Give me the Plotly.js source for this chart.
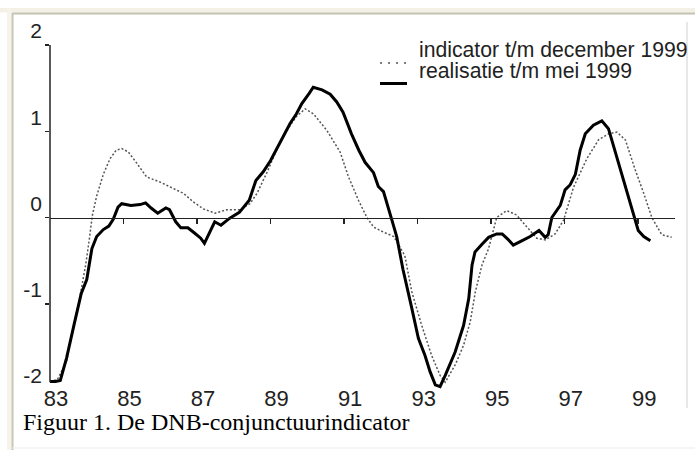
<!DOCTYPE html>
<html><head><meta charset="utf-8">
<script src="https://cdn.plot.ly/plotly-3.0.1.min.js"></script>
<style>html,body{margin:0;padding:0;background:#fff;}#chart{width:695px;height:450px;}</style>
</head><body><div id="chart"></div>
<script>
// indicator t/m december 1999 (dotted line)
const indicatorYear = [83.00,83.20,83.45,83.59,83.80,83.97,84.07,84.15,84.27,84.45,84.63,84.80,84.95,85.13,85.36,85.63,86.00,86.36,86.63,86.90,87.17,87.49,87.81,88.17,88.44,88.63,88.90,89.20,89.44,89.70,89.94,90.17,90.53,90.89,91.12,91.39,91.62,91.80,92.07,92.35,92.65,92.84,93.11,93.38,93.61,93.75,94.02,94.25,94.43,94.57,94.75,94.93,95.02,95.15,95.42,95.69,95.97,96.24,96.47,96.74,96.97,97.24,97.60,97.92,98.19,98.42,98.65,98.92,99.15,99.37,99.64,99.91];
const indicatorValue = [-1.90,-1.88,-1.67,-1.36,-0.95,-0.55,-0.25,0.02,0.25,0.50,0.68,0.78,0.80,0.76,0.63,0.47,0.41,0.34,0.28,0.18,0.10,0.05,0.09,0.09,0.16,0.28,0.52,0.82,1.01,1.17,1.26,1.20,1.01,0.76,0.47,0.20,0.00,-0.11,-0.17,-0.22,-0.44,-0.86,-1.25,-1.60,-1.83,-1.91,-1.71,-1.48,-1.21,-0.86,-0.55,-0.36,-0.20,0.00,0.08,0.03,-0.11,-0.24,-0.26,-0.19,-0.03,0.35,0.68,0.90,0.97,0.99,0.90,0.55,0.28,0.00,-0.20,-0.23];
// realisatie t/m mei 1999 (solid line)
const realisatieYear = [83.00,83.15,83.28,83.45,83.65,83.85,84.00,84.10,84.14,84.27,84.45,84.60,84.72,84.85,84.95,85.20,85.45,85.60,85.75,85.93,86.15,86.25,86.42,86.56,86.75,86.93,87.10,87.20,87.35,87.48,87.65,87.88,88.15,88.42,88.60,88.80,89.00,89.17,89.35,89.53,89.70,89.85,90.05,90.16,90.40,90.62,90.80,90.97,91.10,91.20,91.40,91.57,91.80,91.93,92.07,92.20,92.30,92.43,92.60,92.84,93.02,93.20,93.34,93.48,93.61,93.75,94.02,94.25,94.39,94.48,94.56,94.75,94.93,95.15,95.30,95.45,95.60,95.83,96.06,96.30,96.47,96.55,96.65,96.88,97.01,97.15,97.29,97.42,97.56,97.78,98.01,98.19,98.42,98.65,98.90,99.00,99.15,99.33];
const realisatieValue = [-1.90,-1.90,-1.89,-1.63,-1.25,-0.88,-0.72,-0.45,-0.36,-0.22,-0.14,-0.10,-0.02,0.12,0.16,0.14,0.15,0.17,0.11,0.05,0.11,0.09,-0.05,-0.12,-0.12,-0.18,-0.24,-0.30,-0.17,-0.05,-0.09,-0.01,0.06,0.20,0.43,0.53,0.66,0.80,0.95,1.09,1.20,1.32,1.44,1.51,1.48,1.43,1.34,1.22,1.08,0.97,0.78,0.64,0.52,0.36,0.30,0.10,-0.03,-0.22,-0.60,-1.05,-1.40,-1.60,-1.79,-1.94,-1.96,-1.83,-1.56,-1.25,-0.94,-0.55,-0.40,-0.31,-0.23,-0.19,-0.19,-0.25,-0.32,-0.27,-0.22,-0.15,-0.23,-0.20,0.00,0.14,0.32,0.38,0.50,0.78,0.97,1.07,1.12,1.03,0.70,0.35,-0.02,-0.15,-0.22,-0.27];
const seriesNames = ['indicator t/m december 1999', 'realisatie t/m mei 1999'];
const xTickValues = [83, 85, 87, 89, 91, 93, 95, 97, 99];
const xTickLabels = ['83', '85', '87', '89', '91', '93', '95', '97', '99'];
const yTickValues = [2, 1, 0, -1, -2];
const yTickLabels = ['2', '1', '0', '-1', '-2'];
const captionText = 'Figuur 1. De DNB-conjunctuurindicator';

const W = 695, H = 450, L = 50, R = 20, T = 45, B = 60;
const pw = W - L - R, ph = H - T - B;
const px = v => (v - L) / pw;
const py = v => (H - B - v) / ph;
const sans = 'Liberation Sans, Arial, sans-serif';
const serif = 'Liberation Serif, Times New Roman, serif';

const traces = [
  {x: indicatorYear, y: indicatorValue, name: seriesNames[0], type: 'scatter', mode: 'lines',
   line: {color: '#555', width: 1.5, dash: '2px,2px'}, xaxis: 'x', yaxis: 'y', hoverinfo: 'skip'},
  {x: realisatieYear, y: realisatieValue, name: seriesNames[1], type: 'scatter', mode: 'lines',
   line: {color: '#000', width: 3}, xaxis: 'x2', yaxis: 'y2', hoverinfo: 'skip'}
];

const lineShape = (x0, y0, x1, y1, color, width, dash) =>
  ({type: 'line', xref: 'paper', yref: 'paper', x0: px(x0), x1: px(x1), y0: py(y0), y1: py(y1),
    line: {color: color, width: width, dash: dash || 'solid'}});

const layout = {
  width: W, height: H,
  margin: {l: L, r: R, t: T, b: B, pad: 0},
  paper_bgcolor: '#fff', plot_bgcolor: 'rgba(0,0,0,0)',
  showlegend: false,
  xaxis: {range: [83, 100], tickvals: xTickValues, ticktext: xTickLabels, ticks: '', showline: false,
          showgrid: false, zeroline: false, ticklabelshift: 6, ticklabelstandoff: -7,
          tickfont: {family: sans, size: 22, color: '#222'}, fixedrange: true},
  xaxis2: {overlaying: 'x', anchor: 'free', position: 0.5, range: [83, 100], tickvals: xTickValues.slice(1),
           ticks: 'outside', ticklen: 5, tickwidth: 1.5, tickcolor: '#222', showticklabels: false,
           showline: true, linecolor: '#222', linewidth: 1.5, showgrid: false, zeroline: false, fixedrange: true},
  yaxis: {range: [-2, 2], tickvals: yTickValues, ticktext: yTickLabels, ticks: '', showline: false,
          showgrid: false, zeroline: false, ticklabelshift: -14, ticklabelstandoff: 7,
          tickfont: {family: sans, size: 21, color: '#222'}, fixedrange: true},
  yaxis2: {overlaying: 'y', anchor: 'x', side: 'left', range: [-2, 2], tickvals: [2, 1, 0, -1],
           ticks: 'outside', ticklen: 4, tickwidth: 1.5, tickcolor: '#222', showticklabels: false,
           showline: false, showgrid: false, zeroline: false, fixedrange: true},
  shapes: [
    {type: 'rect', xref: 'paper', yref: 'paper', x0: px(0), x1: px(W), y0: py(8), y1: py(12.5),
     fillcolor: '#f3f1e6', line: {width: 0}, layer: 'below'},
    {type: 'rect', xref: 'paper', yref: 'paper', x0: px(7), x1: px(11.5), y0: py(8), y1: py(H),
     fillcolor: '#f5f3ea', line: {width: 0}, layer: 'below'},
    lineShape(12, 13.5, W, 13.5, '#c4c1b0', 2),
    lineShape(12.5, 13, 12.5, H, '#c8c5b5', 2),
    lineShape(687, 22, 687, 408, '#e0e0e0', 1.5),
    lineShape(12, 448, W, 448, '#ebebeb', 1),
    {type: 'line', xref: 'paper', yref: 'y', x0: 0, x1: 0, y0: -1.91, y1: 2,
     line: {color: '#222', width: 1.5}},
    lineShape(380, 63, 406, 63, '#555', 1.5, '2px,6px'),
    lineShape(380, 83.5, 407, 83.5, '#000', 3)
  ],
  annotations: [
    {xref: 'paper', yref: 'paper', x: px(417), y: py(49), xanchor: 'left', yanchor: 'middle',
     text: seriesNames[0], showarrow: false, font: {family: sans, size: 21.2, color: '#222'}},
    {xref: 'paper', yref: 'paper', x: px(417), y: py(70), xanchor: 'left', yanchor: 'middle',
     text: seriesNames[1], showarrow: false, font: {family: sans, size: 21.2, color: '#222'}},
    {xref: 'paper', yref: 'paper', x: px(21), y: py(422), xanchor: 'left', yanchor: 'middle',
     text: captionText, showarrow: false, font: {family: serif, size: 24, color: '#000'}}
  ]
};

Plotly.newPlot('chart', traces, layout, {displayModeBar: false, staticPlot: true});
</script></body></html>
